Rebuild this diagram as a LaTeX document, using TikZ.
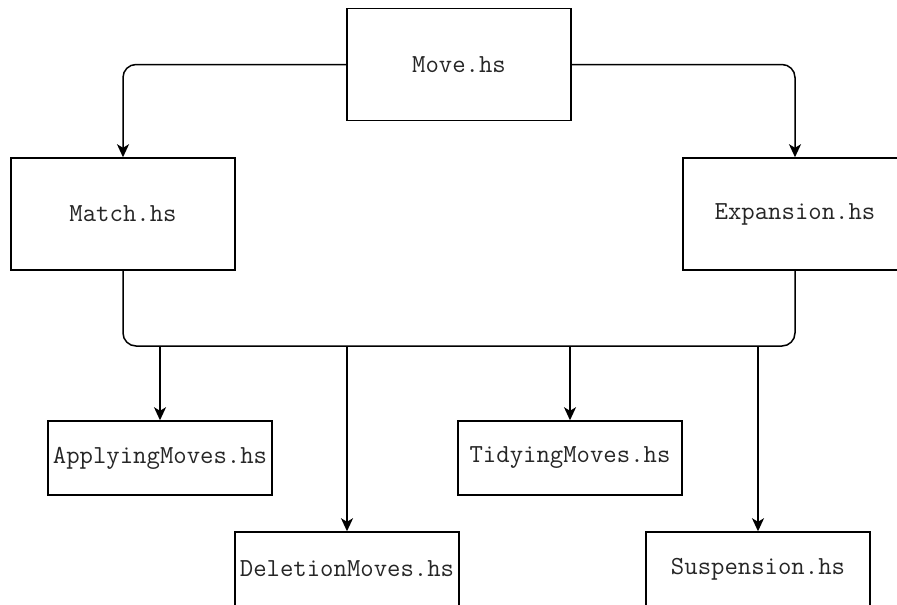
\documentclass[tikz,border=0pt]{standalone}
\usetikzlibrary{arrows.meta}
\begin{document}
\begin{tikzpicture}[x=1pt,y=-1pt,
  modbox/.style={draw=black, line width=1.5pt, fill=white, inner sep=0pt,
    font=\fontsize{26}{28}\selectfont\ttfamily, text=black!85},
  bigbox/.style={modbox, minimum width=224pt, minimum height=112pt},
  smallbox/.style={modbox, minimum width=224pt, minimum height=74pt},
  link/.style={line width=1.5pt, draw=black},
  arrowlink/.style={link, -{Stealth[length=13pt, width=12pt, inset=3.5pt]}},
  elbow/.style={rounded corners=13pt}]
  \useasboundingbox (0,0) rectangle (897,605);
  \clip (0,0) rectangle (897,605);

  % module boxes
  \node[bigbox]   (move)  at (459,64.5) {Move.hs};
  \node[bigbox]   (match) at (123,214)  {Match.hs};
  \node[bigbox]   (exp)   at (795,214)  {Expansion.hs};
  \node[smallbox] (apply) at (160,458)  {ApplyingMoves.hs};
  \node[smallbox] (tidy)  at (570,458)  {TidyingMoves.hs};
  \node[smallbox] (del)   at (347,569)  {DeletionMoves.hs};
  \node[smallbox] (susp)  at (758,569)  {Suspension.hs};

  % level of the shared horizontal bus
  \coordinate (bus) at (0,346);

  % Move.hs feeds the two middle modules
  \draw[arrowlink, elbow] (move.west) -| (match.north);
  \draw[arrowlink, elbow] (move.east) -| (exp.north);

  % bus joining Match.hs and Expansion.hs
  \draw[link, elbow] (match.south) |- (exp.south |- bus) -- (exp.south);

  % drops from the bus to the leaf modules
  \draw[arrowlink] (apply.north |- bus) -- (apply.north);
  \draw[arrowlink] (del.north |- bus) -- (del.north);
  \draw[arrowlink] (tidy.north |- bus) -- (tidy.north);
  \draw[arrowlink] (susp.north |- bus) -- (susp.north);
\end{tikzpicture}
\end{document}
